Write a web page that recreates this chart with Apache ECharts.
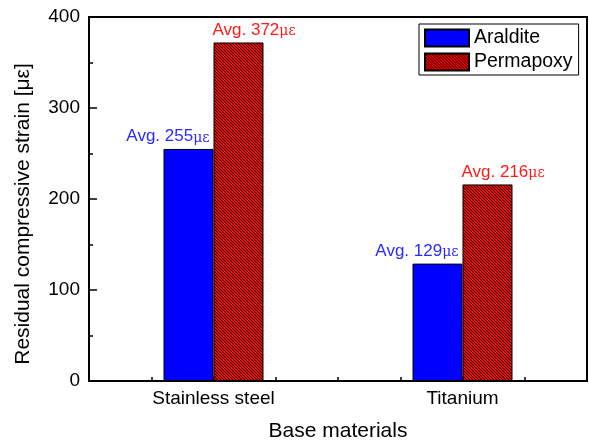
<!DOCTYPE html>
<html>
<head>
<meta charset="utf-8">
<script src="https://cdn.jsdelivr.net/npm/echarts@6/dist/echarts.min.js"></script>
<style>
  html, body { margin: 0; padding: 0; background: #fff; }
  #chart { width: 589px; height: 447px; }
</style>
</head>
<body>
<div id="chart"></div>
<script>
const categories = ['Stainless steel', 'Titanium']
const araldite = [255, 129]
const permapoxy = [372, 216]
const yTicks = [0, 100, 200, 300, 400]

const FONT = '"Liberation Sans", Arial, sans-serif'

// red fill with thin black "\" hatching
function hatch () {
  const c = document.createElement('canvas')
  c.width = 3
  c.height = 3
  const ctx = c.getContext('2d')
  ctx.fillStyle = '#ff0000'
  ctx.fillRect(0, 0, 3, 3)
  ctx.fillStyle = '#000'
  for (let i = 0; i < 3; i++) ctx.fillRect(i, i, 1, 1)
  return c
}

const chart = echarts.init(document.getElementById('chart'))

function avgLabel (color, side) {
  return {
    show: true,
    position: side === 'left' ? ['100%', 0] : [0, 0],
    align: side === 'left' ? 'right' : 'left',
    verticalAlign: 'bottom',
    offset: side === 'left' ? [-4, -4] : [-1, -4],
    formatter: 'Avg. {c}{u|\u03bc\u03b5}',
    color: color,
    fontFamily: FONT,
    fontSize: 17,
    rich: {
      u: { fontSize: 14, color: color, fontFamily: 'DejaVu Serif, serif', padding: [3, 0, 0, 0] }
    }
  }
}

const option = {
  animation: false,
  grid: {
    left: 89, right: 2, top: 17, bottom: 64,
    show: true, borderColor: '#000', borderWidth: 2, backgroundColor: 'transparent'
  },
  legend: {
    orient: 'vertical',
    left: 419, top: 24,
    padding: [4, 6, 3, 5],
    itemGap: 4,
    itemWidth: 44, itemHeight: 17,
    borderColor: '#000', borderWidth: 1,
    icon: 'rect',
    textStyle: { fontFamily: FONT, fontSize: 19.5, lineHeight: 20, color: '#000' },
    data: ['Araldite', 'Permapoxy']
  },
  xAxis: [{
    type: 'category',
    data: categories,
    name: 'Base materials',
    nameLocation: 'middle',
    nameGap: 40,
    nameTextStyle: { fontFamily: FONT, fontSize: 21, color: '#000' },
    axisLine: { lineStyle: { color: '#000', width: 2 } },
    axisTick: { inside: true, length: 7, lineStyle: { color: '#000', width: 1.5 } },
    axisLabel: { fontFamily: FONT, fontSize: 19, color: '#000', margin: 8 }
  }, {
    // minor ticks at quarter band positions
    type: 'value',
    position: 'bottom',
    min: 0, max: 8, interval: 1,
    axisLine: { show: false },
    axisTick: { show: true, inside: true, length: 4, lineStyle: { color: '#000', width: 1.5 } },
    axisLabel: { show: false },
    splitLine: { show: false }
  }],
  yAxis: {
    type: 'value',
    min: yTicks[0], max: yTicks[yTicks.length - 1], interval: 100,
    name: 'Residual compressive strain [\u03bc\u03b5]',
    nameLocation: 'middle',
    nameGap: 55,
    nameTextStyle: { fontFamily: FONT, fontSize: 21, color: '#000', padding: [0, 30, 0, 0] },
    axisLine: { show: true, lineStyle: { color: '#000', width: 2 } },
    axisTick: { show: true, inside: true, length: 8, lineStyle: { color: '#000', width: 1.5 } },
    minorTick: { show: true, splitNumber: 2, length: 4, lineStyle: { color: '#000', width: 1.5 } },
    axisLabel: { fontFamily: FONT, fontSize: 19, color: '#000', margin: 9 },
    splitLine: { show: false }
  },
  series: [{
    name: 'Araldite',
    type: 'bar',
    data: araldite,
    barWidth: 50,
    barGap: 0,
    itemStyle: { color: '#0000ff', borderColor: '#000', borderWidth: 1 },
    label: avgLabel('#2a2aff', 'left')
  }, {
    name: 'Permapoxy',
    type: 'bar',
    data: permapoxy,
    barWidth: 50,
    barGap: 0,
    itemStyle: { color: { image: hatch(), repeat: 'repeat' }, borderColor: '#000', borderWidth: 1 },
    label: avgLabel('#ff1a1a', 'right')
  }]
}

chart.setOption(option)
</script>
</body>
</html>
